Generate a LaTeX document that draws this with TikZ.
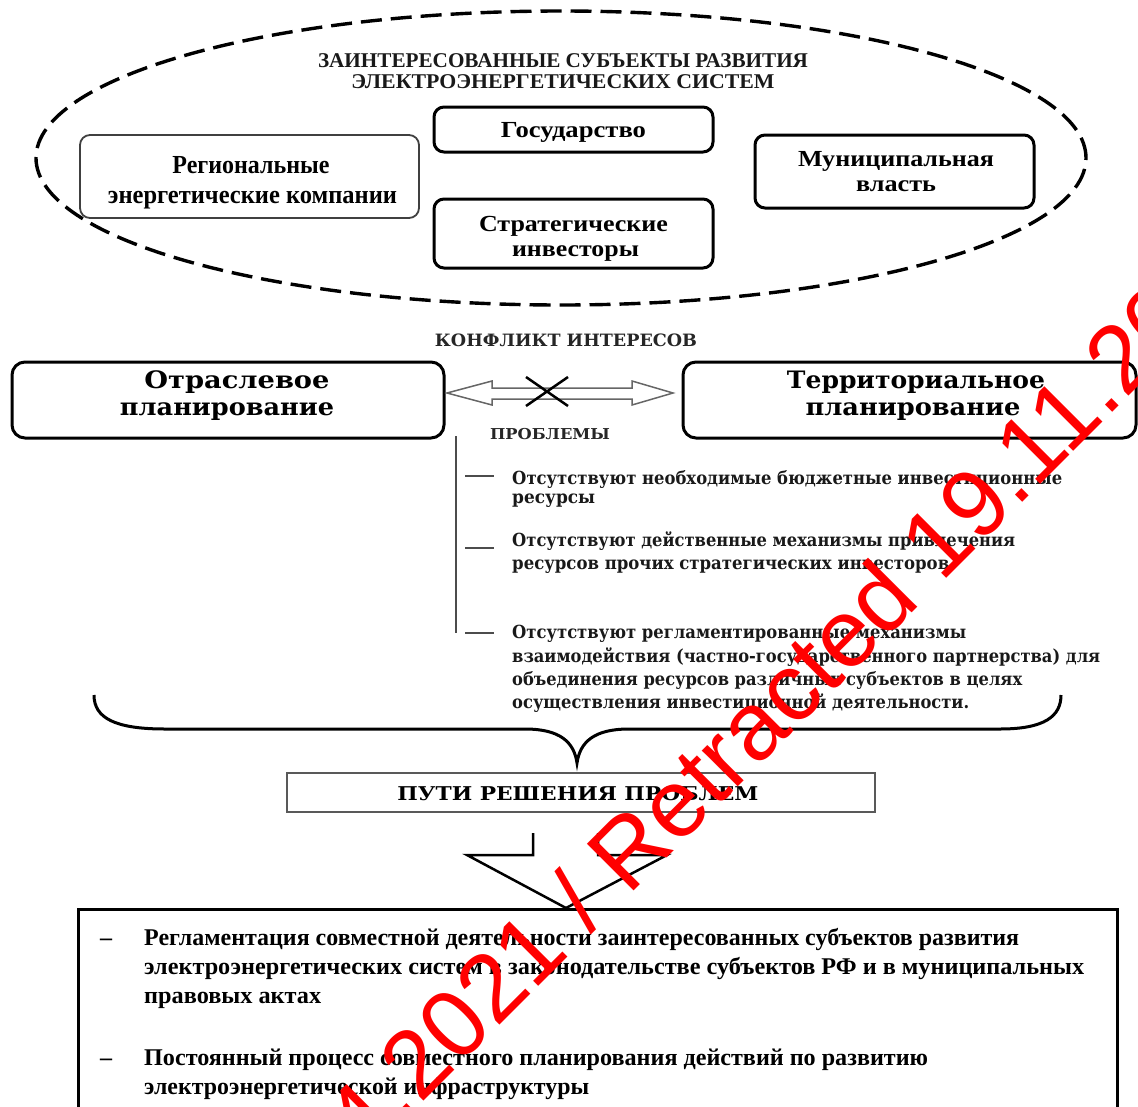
\documentclass[tikz,border=0pt]{standalone}
\usepackage{fontspec}
\usepackage{graphicx}
\setmainfont{Liberation Serif}
\newfontfamily\dvs{DejaVu Serif}
\newfontfamily\wmfont{Liberation Sans}
\newcommand\fitx[2]{\resizebox{#1pt}{\height}{#2}}
\newcommand\fsz[1]{\fontsize{#1}{#1}\selectfont}
\begin{document}
\begin{tikzpicture}[x=1pt,y=-1pt,
  t/.style={inner sep=0pt, anchor=base},
  tl/.style={inner sep=0pt, anchor=base west},
  rbox/.style={draw, rounded corners=10pt, line width=3pt, inner sep=0pt},
  topf/.style={font=\bfseries\fsz{#1}},
  wide/.style={font=\dvs\bfseries\fsz{#1}},
  prob/.style={tl, font=\dvs\bfseries\fsz{18}, text=black!90},
  sol/.style={tl, font=\bfseries\fsz{24}},
  thin/.style={draw=black!70, line width=2pt},
]
\useasboundingbox (0,0) rectangle (1138,1106);
\clip (0,0) rectangle (1138,1106);

% dashed ellipse
\draw[line width=3.4pt, dash pattern=on 21pt off 9pt] (561,158) ellipse [x radius=525pt, y radius=147pt];

\node[t, topf=21, text=black!90] (title1) at (563,67) {\fitx{490}{ЗАИНТЕРЕСОВАННЫЕ СУБЪЕКТЫ РАЗВИТИЯ}};
\node[t, topf=21, text=black!90] (title2) at (563,88) {\fitx{423}{ЭЛЕКТРОЭНЕРГЕТИЧЕСКИХ СИСТЕМ}};

% stakeholder boxes
\node[rbox, line width=1.8pt, draw=black!75, minimum width=339pt, minimum height=83pt] (reg) at (249.5,176.5) {};
\node[rbox, minimum width=279pt, minimum height=45pt] (gos) at (573.5,129.5) {};
\node[rbox, minimum width=279pt, minimum height=69pt] (str) at (573.5,233.5) {};
\node[rbox, minimum width=279pt, minimum height=73pt] (mun) at (894.5,171.5) {};

\node[t, topf=26] (reg1) at (251,173) {\fitx{157}{Региональные}};
\node[t, topf=26] (reg2) at (252.5,203) {\fitx{289}{энергетические компании}};
\node[t, topf=23] (gos1) at (573.5,137) {\fitx{145}{Государство}};
\node[t, topf=23] (str1) at (573.5,231) {\fitx{189}{Стратегические}};
\node[t, topf=23] (str2) at (575.5,256) {\fitx{127}{инвесторы}};
\node[t, topf=23] (mun1) at (896,166) {\fitx{196}{Муниципальная}};
\node[t, topf=23] (mun2) at (896,191) {\fitx{80}{власть}};

% conflict
\node[t, wide=17, text=black!85] (konf) at (566,346) {\fitx{262}{КОНФЛИКТ ИНТЕРЕСОВ}};

\node[rbox, minimum width=432pt, minimum height=76pt, rounded corners=13pt] (otr) at (228,400) {};
\node[rbox, minimum width=453pt, minimum height=76pt, rounded corners=13pt] (ter) at (909.5,400) {};
\node[t, wide=24] (otr1) at (237,388) {\fitx{185}{Отраслевое}};
\node[t, wide=24] (otr2) at (227,415) {\fitx{214}{планирование}};
\node[t, wide=24] (ter1) at (916,388) {\fitx{258}{Территориальное}};
\node[t, wide=24] (ter2) at (913,415) {\fitx{215}{планирование}};

% hollow double arrow with cross
\draw[line width=1.5pt, draw=black!60, line join=miter]
  (447,393) -- (492,381) -- (492,388) -- (632,388) -- (632,381) -- (673,393)
  -- (632,405) -- (632,399) -- (492,399) -- (492,405) -- cycle;
\draw[line width=2.5pt] (526,377) -- (568,406) (526,406) -- (568,377);

\node[t, wide=15, text=black!85] (probl) at (550,439) {\fitx{120}{ПРОБЛЕМЫ}};

% problem list
\coordinate (vtop) at (456,436);
\coordinate (vbot) at (456,633);
\draw[thin] (vtop) -- (vbot);
\coordinate (d1a) at (465,476); \coordinate (d1b) at (494,476);
\coordinate (d2a) at (465,548); \coordinate (d2b) at (494,548);
\coordinate (d3a) at (465,633); \coordinate (d3b) at (494,633);
\draw[thin] (d1a) -- (d1b) (d2a) -- (d2b) (d3a) -- (d3b);

\node[prob] (p1) at (512,484) {\fitx{550}{Отсутствуют необходимые бюджетные инвестиционные}};
\node[prob] (p2) at (512,503) {\fitx{83}{ресурсы}};
\node[prob] (p3) at (512,546) {\fitx{503}{Отсутствуют действенные механизмы привлечения}};
\node[prob] (p4) at (512,569) {\fitx{437}{ресурсов прочих стратегических инвесторов}};
\node[prob] (p5) at (512,638) {\fitx{454}{Отсутствуют регламентированные механизмы}};
\node[prob] (p6) at (512,662) {\fitx{588}{взаимодействия (частно-государственного партнерства) для}};
\node[prob] (p7) at (512,685) {\fitx{510}{объединения ресурсов различных субъектов в целях}};
\node[prob] (p8) at (512,708) {\fitx{457}{осуществления инвестиционной деятельности.}};

% brace
\draw[line width=3pt] (94,695) .. controls (94,718) and (115,729) .. (165,729) -- (525,729)
  .. controls (560,729) and (574,742) .. (577,763)
  .. controls (580,742) and (594,729) .. (629,729) -- (1000,729)
  .. controls (1045,729) and (1061,716) .. (1061,695);

% solutions header
\node[draw=black!65, line width=2pt, minimum width=588pt, minimum height=39pt, inner sep=0pt] (ways) at (581,792.5) {};
\node[t, wide=19] (ways1) at (578,800) {\fitx{361}{ПУТИ РЕШЕНИЯ ПРОБЛЕМ}};

% hollow down arrow
\draw[line width=2.5pt, line join=miter] (533,833) -- (533,855) -- (467,855) -- (566,908)
  -- (667,855) -- (598,855) -- (598,833);

% solutions box
\node[draw, line width=3pt, minimum width=1039pt, minimum height=240pt, inner sep=0pt, anchor=north west] (solbox) at (77,908) {};
\node[sol] (b1d) at (100,945) {–};
\node[sol] (b1) at (144,945) {\fitx{875}{Регламентация совместной деятельности заинтересованных субъектов развития}};
\node[sol] (b2) at (144,974) {\fitx{940}{электроэнергетических систем в законодательстве субъектов РФ и в муниципальных}};
\node[sol] (b3) at (144,1003) {\fitx{177}{правовых актах}};
\node[sol] (b4d) at (100,1065) {–};
\node[sol] (b4) at (144,1065) {\fitx{784}{Постоянный процесс совместного планирования действий по развитию}};
\node[sol] (b5) at (144,1094) {\fitx{445}{электроэнергетической инфраструктуры}};

% watermark
\node[inner sep=0pt, anchor=base west, rotate=45, text=red, font=\wmfont\fsz{96}] (wm) at (364,1161) {4.2021 / Retracted 19.11.2021};
\end{tikzpicture}
\end{document}
